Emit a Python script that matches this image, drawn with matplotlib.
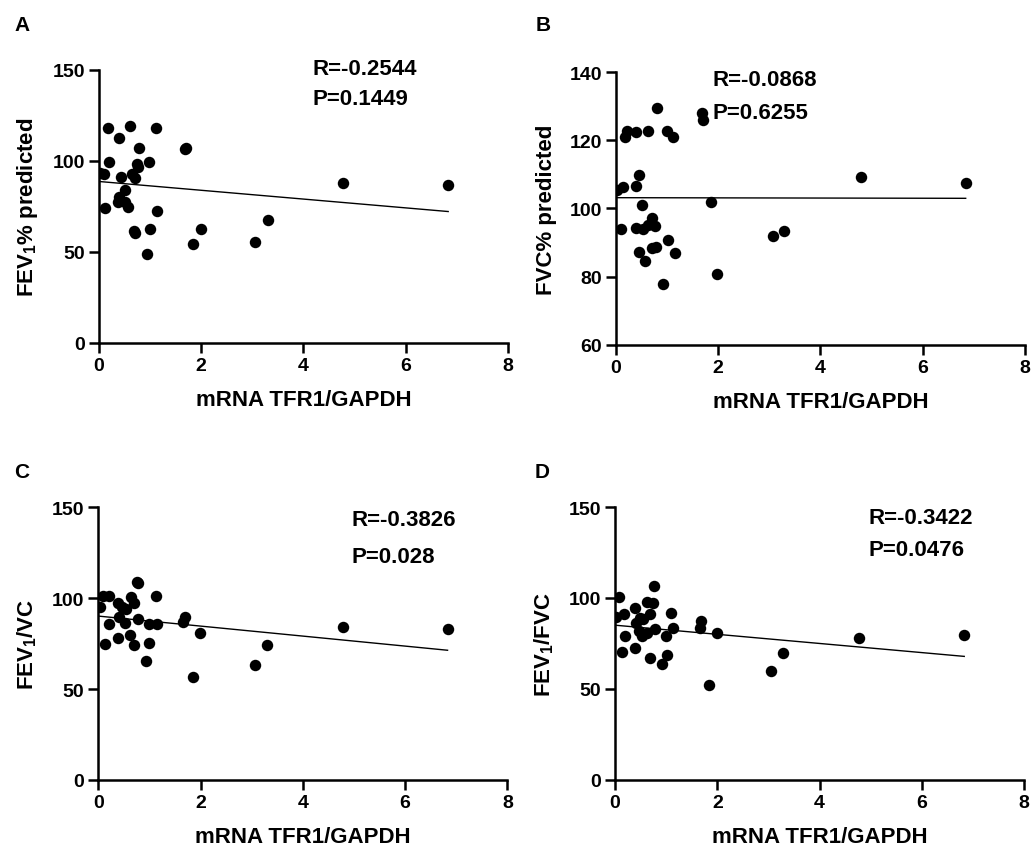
import numpy as np
import matplotlib
matplotlib.use('Agg')
import matplotlib.pyplot as plt

plt.rcParams['font.family'] = ['Liberation Sans', 'DejaVu Sans']
plt.rcParams['font.weight'] = 'bold'
plt.rcParams['mathtext.fontset'] = 'custom'
plt.rcParams['mathtext.rm'] = 'Liberation Sans:bold'
plt.rcParams['mathtext.bf'] = 'Liberation Sans:bold'

# panel A: FEV1% predicted
xa = [0.18, 0.61, 1.11, 0.39, 0.78, 1.68, 1.71, 0.20, 0.98, 0.74, 0.77, 0.02, 0.10, 0.44, 0.64, 0.70, 4.78,
      0.51, 0.40, 0.38, 0.51, 0.57, 0.12, 1.14, 3.30, 0.68, 0.70, 1.00, 1.99, 1.84, 3.06, 0.93, 6.83]
ya = [118.0, 119.0, 118.0, 112.5, 107.0, 106.6, 107.0, 99.7, 99.7, 98.5, 96.9, 93.2, 92.7, 91.2, 92.7, 90.5, 88.1,
      83.8, 80.4, 77.6, 77.2, 74.8, 73.9, 72.6, 67.8, 61.4, 60.7, 62.5, 62.9, 54.2, 55.5, 48.7, 86.8]

# panel B: FVC% predicted
xb = [0.80, 1.68, 1.71, 0.21, 0.18, 0.39, 0.62, 0.99, 1.11, 0.03, 0.13, 0.39, 0.45, 4.80, 1.85, 0.51, 0.09,
      0.39, 0.52, 0.62, 0.70, 0.76, 3.08, 3.29, 1.01, 0.70, 0.78, 0.46, 1.15, 0.57, 1.98, 0.92, 6.84]
yb = [129.4, 128.0, 126.0, 122.8, 120.9, 122.4, 122.8, 122.8, 120.9, 105.4, 106.4, 106.7, 109.9, 109.3, 101.8,
      101.0, 94.0, 94.2, 94.0, 95.2, 97.2, 94.8, 91.8, 93.3, 90.8, 88.3, 88.8, 87.1, 86.9, 84.7, 80.8, 77.8, 107.4]

# panel C: FEV1/VC
xc = [0.75, 0.78, 0.09, 0.20, 0.63, 1.12, 0.39, 0.70, 0.03, 0.46, 0.55, 0.41, 1.69, 1.66, 0.78, 0.52, 0.21,
      1.00, 1.15, 4.79, 0.62, 1.99, 0.39, 0.13, 0.70, 1.00, 3.29, 0.93, 3.06, 1.86, 6.83]
yc = [109.0, 108.2, 101.3, 101.3, 100.9, 101.3, 97.3, 97.3, 94.9, 94.9, 94.3, 89.4, 89.4, 87.0, 88.5, 86.6, 85.7,
      85.7, 85.7, 84.4, 79.9, 80.8, 78.0, 74.7, 74.2, 75.3, 74.4, 65.2, 63.4, 56.4, 83.0]

# panel D: FEV1/FVC
xd = [0.76, 0.08, 0.62, 0.74, 0.39, 0.02, 0.18, 0.68, 1.09, 0.49, 0.41, 0.55, 1.69, 1.66, 1.14, 0.78, 0.46,
      0.52, 0.62, 0.20, 1.00, 1.99, 4.78, 0.39, 0.13, 1.01, 0.68, 3.28, 0.92, 3.06, 1.84, 6.83]
yd = [106.5, 100.6, 97.9, 97.4, 94.6, 89.7, 91.3, 91.3, 91.5, 89.1, 86.4, 88.2, 87.3, 83.6, 83.3, 82.7, 81.8,
      79.0, 80.5, 79.0, 79.0, 80.9, 78.1, 72.3, 70.5, 68.6, 66.8, 69.5, 63.5, 59.8, 52.1, 79.6]

panels = [
    # letter, x, y, ylabel, yticks, R text, P text, rect, text pos (x, yR, yP), letter pos
    ('A', xa, ya, r'FEV$_{1}$% predicted', [0, 50, 100, 150], 'R=-0.2544', 'P=0.1449',
     [0.0957, 0.5972, 0.3956, 0.3197], (0.523, 1.004, 0.894), (0.014, 0.970)),
    ('B', xb, yb, 'FVC% predicted', [60, 80, 100, 120, 140], 'R=-0.0868', 'P=0.6255',
     [0.5957, 0.5952, 0.3956, 0.3190], (0.235, 0.975, 0.854), (0.518, 0.970)),
    ('C', xc, yc, r'FEV$_{1}$/VC', [0, 50, 100, 150], 'R=-0.3826', 'P=0.028',
     [0.0951, 0.0855, 0.3956, 0.3193], (0.62, 0.957, 0.821), (0.014, 0.447)),
    ('D', xd, yd, r'FEV$_{1}$/FVC', [0, 50, 100, 150], 'R=-0.3422', 'P=0.0476',
     [0.5948, 0.0858, 0.3956, 0.3193], (0.619, 0.963, 0.846), (0.517, 0.447)),
]

fig = plt.figure(figsize=(10.34, 8.54), dpi=100)

for letter, x, y, ylabel, yticks, rtxt, ptxt, rect, tpos, lpos in panels:
    ax = fig.add_axes(rect)
    x = np.array(x)
    y = np.array(y)
    ax.scatter(x, y, s=68, color='black', zorder=3, linewidths=0)
    k, b = np.polyfit(x, y, 1)
    xl = np.array([0, x.max()])
    ax.plot(xl, k * xl + b, color='black', lw=1)

    ax.set_xlim(0, 8)
    ax.set_ylim(yticks[0], yticks[-1])
    ax.set_xticks([0, 2, 4, 6, 8])
    ax.set_yticks(yticks)
    ax.spines['top'].set_visible(False)
    ax.spines['right'].set_visible(False)
    ax.spines['left'].set_linewidth(1.8)
    ax.spines['bottom'].set_linewidth(1.8)
    ax.tick_params(direction='out', length=7, width=1.8, labelsize=14, pad=3)
    for lab in ax.get_xticklabels() + ax.get_yticklabels():
        lab.set_fontweight('bold')
    ax.set_xlabel('mRNA TFR1/GAPDH', fontsize=16, fontweight='bold', labelpad=11)
    ax.set_ylabel(ylabel, fontsize=16, fontweight='bold', labelpad=9)

    ax.text(tpos[0], tpos[1], rtxt, transform=ax.transAxes, fontsize=16, fontweight='bold', va='center')
    ax.text(tpos[0], tpos[2], ptxt, transform=ax.transAxes, fontsize=16, fontweight='bold', va='center')
    fig.text(lpos[0], lpos[1], letter, fontsize=15, fontweight='bold', va='center')

fig.savefig('out.png', dpi=100)
